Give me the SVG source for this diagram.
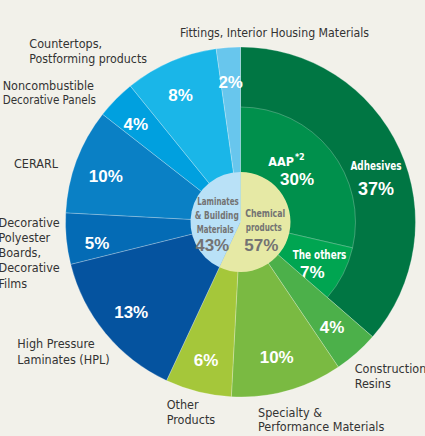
<svg xmlns="http://www.w3.org/2000/svg" width="425" height="436" viewBox="0 0 425 436">
<style>
.sl{stroke:#ffffff;stroke-opacity:0.3;stroke-width:0.8}
.lbl{font-family:"Liberation Sans Narrow","DejaVu Sans Condensed","Liberation Sans",sans-serif;font-size:12.5px;fill:#333333}
.pct{font-family:"Liberation Sans",Arial,sans-serif;font-weight:bold;font-size:17px;fill:#ffffff;text-anchor:middle}
.wl{font-family:"Liberation Sans Narrow","DejaVu Sans Condensed","Liberation Sans",sans-serif;font-weight:bold;font-size:12.5px;fill:#ffffff;text-anchor:middle}
.il{font-family:"Liberation Sans Narrow","DejaVu Sans Condensed","Liberation Sans",sans-serif;font-weight:bold;font-size:11px;fill:#737373;text-anchor:middle}
.ip{font-family:"Liberation Sans",Arial,sans-serif;font-weight:bold;font-size:17px;fill:#737373;text-anchor:middle}
</style>
<rect x="0" y="0" width="425" height="436" fill="#f2f1ea"/>
<g id="adhesives"><path class="sl" fill="#007643" d="M240.5,222 L240.5,47 A175,175 0 0 1 372.57,336.81 Z"/>
<text class="wl" x="376" y="170" textLength="51" lengthAdjust="spacingAndGlyphs">Adhesives</text><text class="pct" x="376" y="195" style="font-size:18px">37%</text></g>
<g id="aap"><path class="sl" fill="#00904c" d="M240.5,222 L240.5,107 A115,115 0 0 1 352.55,247.87 Z"/>
<text class="wl" x="286.5" y="166">AAP<tspan dx="1" dy="-6" style="font-size:9px">*2</tspan></text><text class="pct" x="297" y="185">30%</text></g>
<g id="the-others"><path class="sl" fill="#00a551" d="M240.5,222 L352.55,247.87 A115,115 0 0 1 327.29,297.45 Z"/>
<text class="wl" x="319.5" y="259.3" textLength="53.6" lengthAdjust="spacingAndGlyphs">The others</text><text class="pct" x="312.3" y="277.7">7%</text></g>
<g id="construction-resins"><path class="sl" fill="#4cb04a" d="M240.5,222 L372.57,336.81 A175,175 0 0 1 338.36,367.08 Z"/>
<text class="pct" x="332" y="333.3">4%</text>
<text class="lbl" x="354.7" y="373.3">Construction</text><text class="lbl" x="354.7" y="388.3">Resins</text></g>
<g id="specialty"><path class="sl" fill="#7aba42" d="M240.5,222 L338.36,367.08 A175,175 0 0 1 231.34,396.76 Z"/>
<text class="pct" x="276.7" y="363.3">10%</text>
<text class="lbl" x="258" y="416.7">Specialty &amp;</text><text class="lbl" x="258" y="431">Performance Materials</text></g>
<g id="other-products"><path class="sl" fill="#a5c73a" d="M240.5,222 L231.34,396.76 A175,175 0 0 1 166.54,380.6 Z"/>
<text class="pct" x="206" y="365.7">6%</text>
<text class="lbl" x="166.7" y="409.3">Other</text><text class="lbl" x="166.7" y="424.3">Products</text></g>
<g id="hpl"><path class="sl" fill="#05539f" d="M240.5,222 L166.54,380.6 A175,175 0 0 1 70.7,264.34 Z"/>
<text class="pct" x="131.2" y="318.3">13%</text>
<text class="lbl" x="17.3" y="348.3">High Pressure</text><text class="lbl" x="17.3" y="364">Laminates (HPL)</text></g>
<g id="decorative-polyester"><path class="sl" fill="#046bb5" d="M240.5,222 L70.7,264.34 A175,175 0 0 1 65.74,212.84 Z"/>
<text class="pct" x="97" y="249">5%</text>
<text class="lbl" x="-1.5" y="227.3">Decorative</text><text class="lbl" x="-1.5" y="242.3">Polyester</text><text class="lbl" x="-1.5" y="257.3">Boards,</text><text class="lbl" x="-1.5" y="272.3">Decorative</text><text class="lbl" x="-1.5" y="287.8">Films</text></g>
<g id="cerarl"><path class="sl" fill="#0a80c5" d="M240.5,222 L65.74,212.84 A175,175 0 0 1 102.6,114.26 Z"/>
<text class="pct" x="105.8" y="181.7">10%</text>
<text class="lbl" x="14" y="168.3">CERARL</text></g>
<g id="noncombustible"><path class="sl" fill="#00a0df" d="M240.5,222 L102.6,114.26 A175,175 0 0 1 130.37,86 Z"/>
<text class="pct" x="135.8" y="130">4%</text>
<text class="lbl" x="2.7" y="90">Noncombustible</text><text class="lbl" x="2.7" y="104.3" textLength="93.3" lengthAdjust="spacingAndGlyphs">Decorative Panels</text></g>
<g id="countertops"><path class="sl" fill="#1ab6e8" d="M240.5,222 L130.37,86 A175,175 0 0 1 216.15,48.7 Z"/>
<text class="pct" x="180.5" y="100.7">8%</text>
<text class="lbl" x="29.3" y="47.7">Countertops,</text><text class="lbl" x="29.3" y="62.7" textLength="117.7" lengthAdjust="spacingAndGlyphs">Postforming products</text></g>
<g id="fittings"><path class="sl" fill="#68c6ed" d="M240.5,222 L216.15,48.7 A175,175 0 0 1 240.5,47 Z"/>
<text class="pct" x="230.7" y="88.3">2%</text>
<text class="lbl" x="180" y="37.3" textLength="189" lengthAdjust="spacingAndGlyphs">Fittings, Interior Housing Materials</text></g>
<g id="chemical-products"><path fill="#e6e9a5" d="M240.5,222 L240.5,172 A50,50 0 1 1 219.37,267.32 Z"/>
<text class="il" x="265.2" y="217.3" textLength="40" lengthAdjust="spacingAndGlyphs">Chemical</text><text class="il" x="263.8" y="231" textLength="36" lengthAdjust="spacingAndGlyphs">products</text><text class="ip" x="261.3" y="250.7">57%</text></g>
<g id="laminates-building"><path fill="#b9e1f7" d="M240.5,222 L219.37,267.32 A50,50 0 0 1 240.5,172 Z"/>
<text class="il" x="218" y="205" textLength="41.5" lengthAdjust="spacingAndGlyphs">Laminates</text><text class="il" x="216.8" y="219.3" textLength="44" lengthAdjust="spacingAndGlyphs">&amp; Building</text><text class="il" x="215.3" y="232.7" textLength="37" lengthAdjust="spacingAndGlyphs">Materials</text><text class="ip" x="212.2" y="250.7">43%</text></g>
<g id="connectors"/>
</svg>
